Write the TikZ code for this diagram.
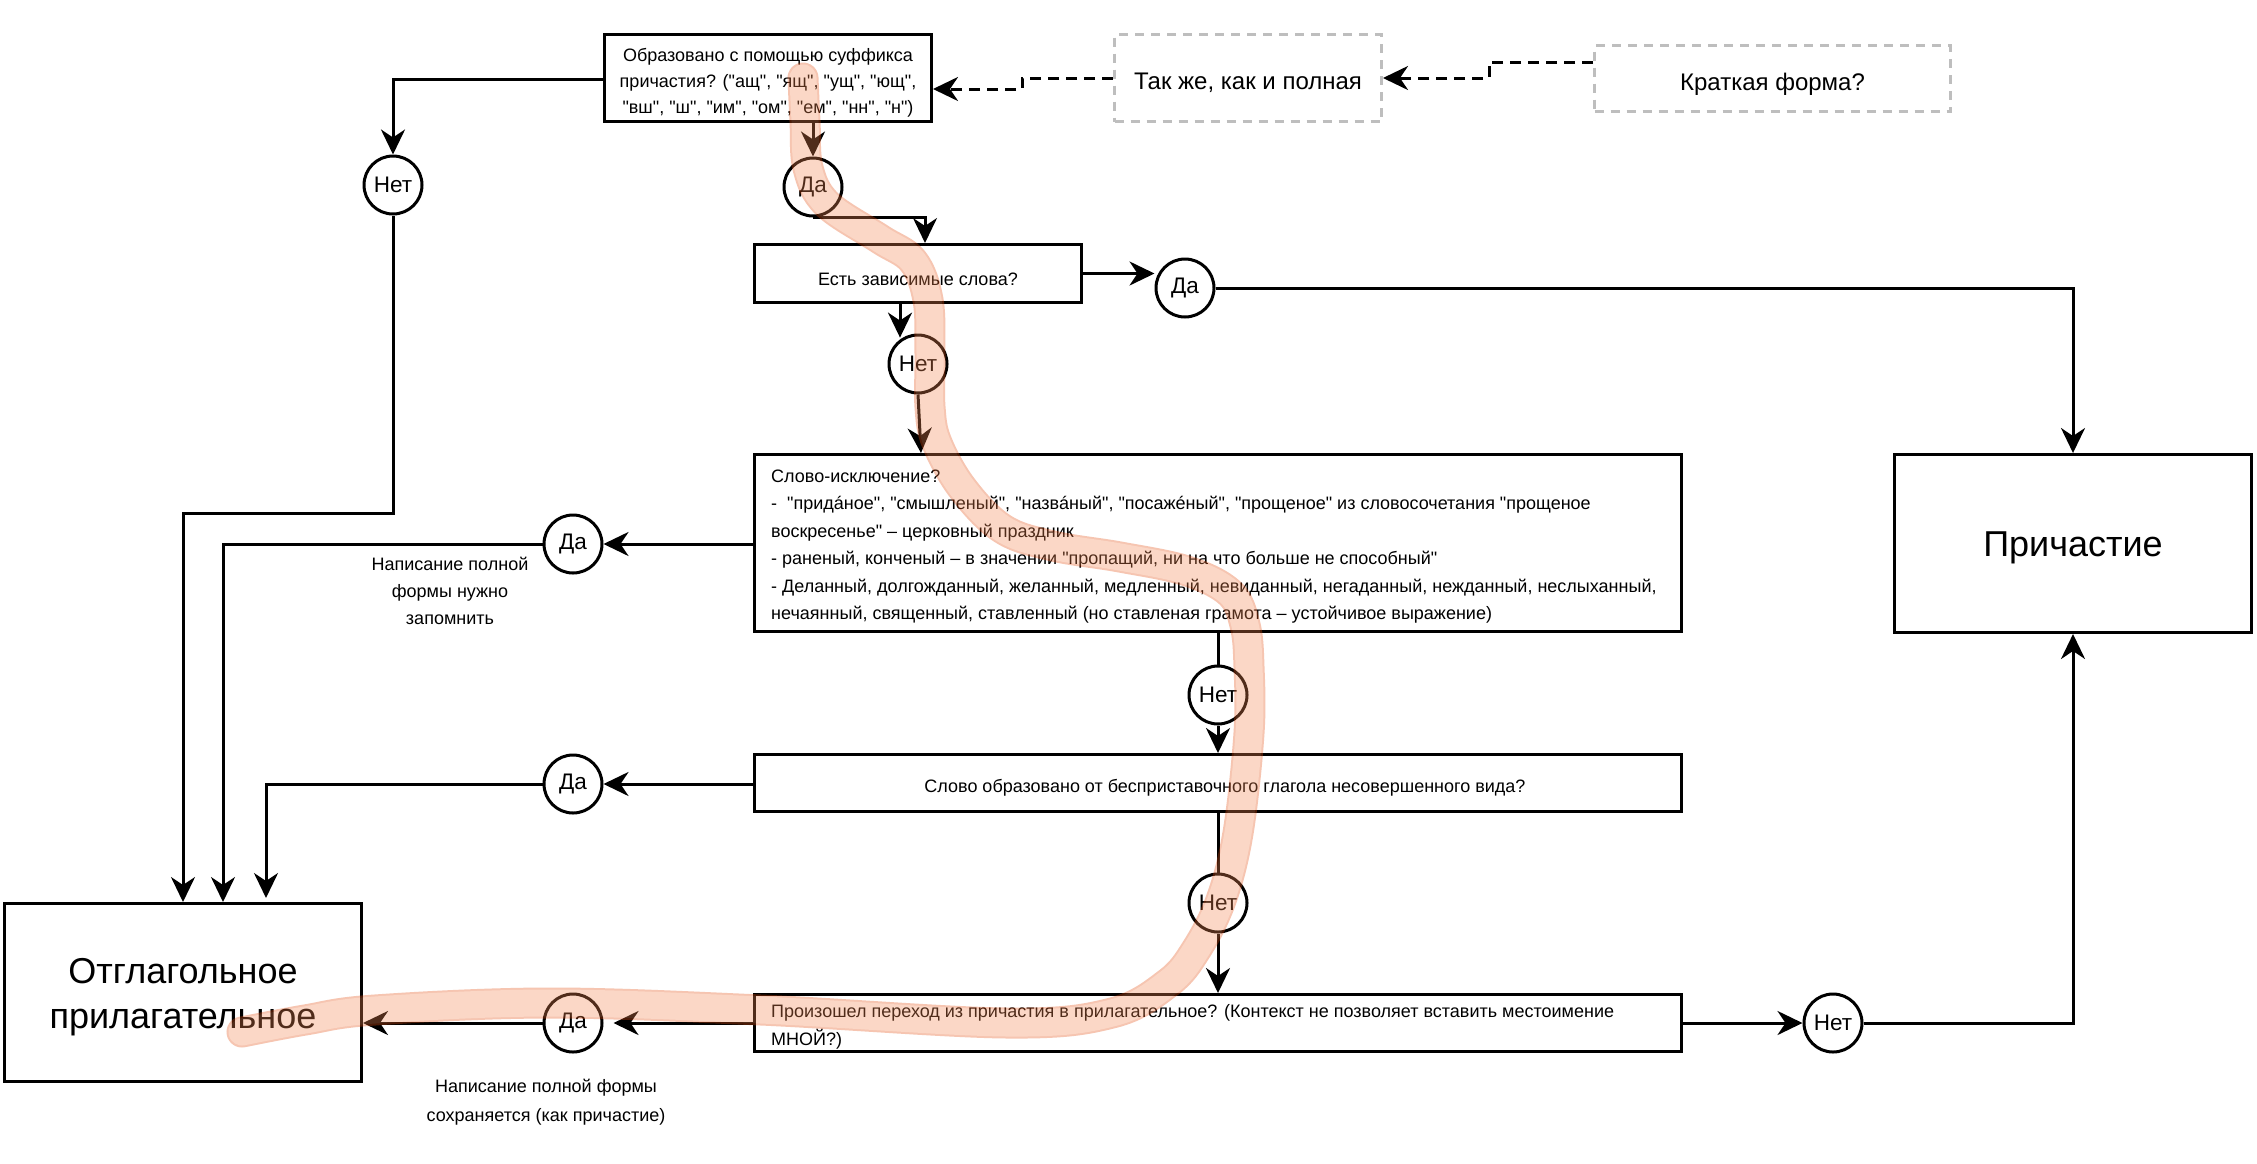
\documentclass[tikz,border=0pt]{standalone}
\usepackage{fontspec}
\setmainfont{Liberation Sans}[Ligatures=TeXOff]
\usetikzlibrary{arrows.meta}
\definecolor{dgray}{RGB}{190,190,190}
\definecolor{hledge}{RGB}{228,80,20}
\definecolor{hlfill}{RGB}{243,135,82}
\tikzset{
  box/.style={draw, line width=3pt, rectangle, inner sep=0pt},
  dbox/.style={draw=dgray, line width=3pt, dash pattern=on 9pt off 7pt, rectangle, inner sep=0pt},
  circ/.style={draw, circle, line width=3pt, minimum size=58pt, inner sep=0pt, font=\fontsize{22.5}{26}\selectfont},
  conn/.style={line width=3pt, -{Stealth[length=25pt,width=24pt,inset=8pt]}},
  dconn/.style={conn, dash pattern=on 11pt off 7pt},
  plain/.style={line width=3pt},
  small/.style={font=\fontsize{18}{21}\selectfont, inner sep=0pt, anchor=base},
  smallw/.style={small, anchor=base west},
  mid/.style={font=\fontsize{24}{28}\selectfont, inner sep=0pt, anchor=base},
  big/.style={font=\fontsize{36}{40}\selectfont, inner sep=0pt, anchor=base},
}
\begin{document}
\begin{tikzpicture}[x=1pt,y=-1pt]
\fill[white] (0,0) rectangle (2257,1163);
\useasboundingbox (0,0) rectangle (2257,1163);

% boxes
\node[box, minimum width=327, minimum height=87] (top) at (768,78) {};
\node[dbox, minimum width=267, minimum height=87] (same) at (1248,78) {};
\node[dbox, minimum width=356, minimum height=66] (short) at (1772.5,78.5) {};
\node[box, minimum width=327, minimum height=58] (dep) at (918,273.5) {};
\node[box, minimum width=927, minimum height=177] (excl) at (1218,543) {};
\node[box, minimum width=357, minimum height=178] (part) at (2073,543.5) {};
\node[box, minimum width=927, minimum height=57] (prist) at (1218,783) {};
\node[box, minimum width=927, minimum height=57] (trans) at (1218,1023) {};
\node[box, minimum width=357, minimum height=178] (otg) at (183,992.5) {};

% texts
\node[small] (t1) at (768,61) {Образовано с помощью суффикса};
\node[small] (t2) at (768,87) {причастия? ("ащ", "ящ", "ущ", "ющ",};
\node[small] (t3) at (768,113) {"вш", "ш", "им", "ом", "ем", "нн", "н")};
\node[mid] (samet) at (1248,89) {Так же, как и полная};
\node[mid] (shortt) at (1772.5,90) {Краткая форма?};
\node[small] (dept) at (918,285) {Есть зависимые слова?};
\node[smallw] (e1) at (771,482) {Слово-исключение?};
\node[smallw] (e2) at (771,509.5) {-\ \ "придáное", "смышленый", "назвáный", "посажéный", "прощеное" из словосочетания "прощеное};
\node[smallw] (e3) at (771,537) {воскресенье" – церковный праздник};
\node[smallw] (e4) at (771,564.5) {- раненый, конченый – в значении "пропащий, ни на что больше не способный"};
\node[smallw] (e5) at (771,592) {- Деланный, долгожданный, желанный, медленный, невиданный, негаданный, нежданный, неслыханный,};
\node[smallw] (e6) at (771,619.5) {нечаянный, священный, ставленный (но ставленая грамота – устойчивое выражение)};
\node[small] (pt) at (1225,792) {Слово образовано от бесприставочного глагола несовершенного вида?};
\node[smallw] (r1) at (771,1017) {Произошел переход из причастия в прилагательное? (Контекст не позволяет вставить местоимение};
\node[smallw] (r2) at (771,1045) {МНОЙ?)};
\node[big] (partt) at (2073,556) {Причастие};
\node[big] (o1) at (183,983) {Отглагольное};
\node[big] (o2) at (183,1028) {прилагательное};
\node[small] (l1) at (450,570) {Написание полной};
\node[small] (l2) at (450,597) {формы нужно};
\node[small] (l3) at (450,624) {запомнить};
\node[small] (m1) at (546,1092) {Написание полной формы};
\node[small] (m2) at (546,1121) {сохраняется (как причастие)};

% circles
\node[circ] (net1) at (393,185) {Нет};
\node[circ] (da1) at (813,187) {Да};
\node[circ] (da2) at (1185,288) {Да};
\node[circ] (net2) at (918,364) {Нет};
\node[circ] (da3) at (573,544) {Да};
\node[circ] (net3) at (1218,695) {Нет};
\node[circ] (da4) at (573,784) {Да};
\node[circ] (net4) at (1218,903) {Нет};
\node[circ] (da5) at (573,1023) {Да};
\node[circ] (net5) at (1833,1023) {Нет};

% connectors
\draw[dconn] ([yshift=16.5pt]short.west) -- (1489,62) |- (same.east);
\draw[dconn] (same.west) -- (1022,78) |- ([yshift=-11pt]top.east);
\draw[conn] ([yshift=-1pt]top.west) -| (net1.north);
\draw[conn] (net1.south) -- (393,513) -| (otg.north);
\draw[conn] (da1.north |- top.south) -- (da1.north);
\draw[conn] (da1.south) -| ([xshift=7pt]dep.north);
\draw[conn] (dep.east) -- (dep.east -| da2.west);
\draw[conn] (da2.east) -| (part.north);
\coordinate (d2) at ([xshift=-18pt]dep.south);
\draw[conn] (d2) -- (d2 |- net2.120);
\coordinate (n2b) at ([xshift=3pt]net2.south);
\draw[conn] (net2.south) -- (n2b |- excl.north);
\draw[conn] (excl.west |- da3.east) -- (da3.east);
\draw[conn] (da3.west) -| ([xshift=40pt]otg.north);
\draw[plain] (excl.south) -- (net3.north);
\draw[conn] (net3.south) -- (prist.north);
\draw[conn] (prist.west |- da4.east) -- (da4.east);
\draw[conn] (da4.west) -| ([xshift=83pt,yshift=4pt]otg.north);
\draw[plain] (prist.south) -- (net4.north);
\draw[conn] (net4.south) -- (trans.north);
\draw[conn] (trans.west) -- ([xshift=10pt]da5.east);
\draw[conn] (da5.west) -- (otg.east |- da5.west);
\draw[conn] (trans.east) -- (net5.west);
\draw[conn] (net5.east) -| (part.south);

% highlight stroke
\begin{scope}[transparency group, opacity=0.33]
\def\hlpath{plot[smooth, tension=0.6] coordinates {(803,78) (805,121) (808,168) (827,204) (880,239) (913,261) (928,300) (930,354) (930,407) (937,443) (963,489) (1003,529) (1053,546) (1120,557) (1187,571) (1230,593) (1245,625) (1249,667) (1249,733) (1238,833) (1221,900) (1196,950) (1168,983) (1112,1013) (1007,1023) (761,1010) (551,1003) (375,1010) (305,1020) (242,1032)}}
\draw[hledge, line width=31pt, line cap=round, line join=round] \hlpath;
\draw[hlfill, line width=27pt, line cap=round, line join=round] \hlpath;
\end{scope}
\end{tikzpicture}
\end{document}
